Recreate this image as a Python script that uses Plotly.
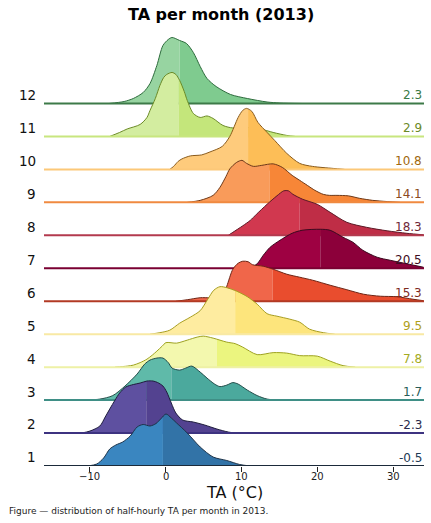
import numpy as np
import plotly.graph_objects as go

# %% data (temperatures in °C, heights = density in px at row pitch 33)

months = [1, 2, 3, 4, 5, 6, 7, 8, 9, 10, 11, 12]
medians = [-0.4, -2.6, 0.7, 6.7, 9.1, 14.0, 20.3, 17.6, 13.6, 10.8, 1.7, 1.8]
means = [-0.5, -2.3, 1.7, 7.8, 9.5, 15.3, 20.5, 18.3, 14.1, 10.8, 2.9, 2.3]
tick_vals = [-10, 0, 10, 20, 30]

ta_01 = [-10.3, -9.1, -8.2, -7.4, -6.6, -5.7, -4.7, -3.8, -3.0, -2.1, -1.3, -0.7, 0.0, 0.7, 1.4, 2.8, 4.5, 6.2, 8.0, 9.7, 11.1]
h_01 = [0, 2, 8, 17, 21, 24, 30, 39, 41.5, 40, 42.5, 47, 52, 48, 43, 33, 19, 9, 5.5, 1.5, 0]

ta_02 = [-11.1, -10.0, -8.7, -8.0, -7.4, -6.7, -6.1, -5.3, -4.3, -3.4, -2.5, -1.7, -1.1, -0.4, 0.1, 0.7, 1.3, 2.2, 3.6, 5.1, 6.7, 8.2, 9.1]
h_02 = [0, 2, 7, 16, 24, 33, 40, 46, 48.5, 50, 52, 52, 50.5, 47, 41, 30, 20, 13, 11, 8, 4, 1, 0]

ta_03 = [-10.7, -8.7, -7.0, -5.4, -3.8, -2.8, -2.1, -1.2, -0.4, 0.3, 0.8, 1.8, 2.6, 3.4, 4.5, 5.4, 6.4, 7.1, 8.0, 8.8, 9.5, 10.7, 12.0, 13.3, 14.6]
h_03 = [0, 1, 4.5, 14, 26, 36, 40, 42, 42, 37.5, 32, 30, 32, 34, 28, 22, 16, 13.5, 15, 17.5, 16, 10, 4.5, 1, 0]

ta_04 = [-6.7, -5.1, -4.3, -3.4, -2.5, -1.8, -1.2, -0.5, 0.0, 1.4, 2.8, 4.1, 4.9, 6.2, 8.0, 9.1, 10.1, 12.0, 14.1, 15.9, 17.6, 19.9, 21.6, 23.3, 24.9]
h_04 = [0, 1, 2, 4.5, 8, 12, 16, 21, 24.5, 24, 27, 30, 31, 29, 25, 23.5, 20, 12.5, 14.5, 14, 11.5, 11, 6, 1.5, 0]

ta_05 = [-2.1, -0.8, 0.5, 1.8, 3.2, 4.5, 5.5, 6.3, 7.1, 8.0, 9.3, 10.7, 12.0, 13.3, 14.6, 16.3, 17.6, 18.9, 20.7, 22.2]
h_05 = [0, 1.5, 4, 11, 17, 23.5, 35, 44, 47.5, 46.5, 43, 37.5, 30, 20.5, 18, 15, 12, 5, 1.5, 0]

ta_06 = [1.3, 2.8, 4.5, 5.8, 7.1, 7.6, 8.0, 8.8, 9.5, 10.1, 10.8, 11.4, 12.8, 14.1, 15.9, 17.6, 19.3, 21.6, 23.8, 26.0, 28.2, 30.4, 32.5, 33.9]
h_06 = [0, 1.5, 3.5, 3.5, 4.5, 8, 15, 32, 38, 40, 39.5, 36.5, 35, 32, 27, 24, 21, 16, 11.5, 7, 5, 4.5, 2, 0.5]

ta_07 = [11.1, 12.0, 12.8, 13.7, 15.0, 16.6, 17.9, 20.3, 21.6, 23.3, 24.6, 25.9, 27.8, 29.5, 31.7, 33.9]
h_07 = [0, 4.5, 13, 21, 28, 35, 38, 39, 38, 31, 26, 18, 11, 8, 4.5, 1]

ta_08 = [8.2, 8.8, 10.1, 11.1, 11.9, 13.3, 14.6, 15.5, 16.1, 16.7, 18.0, 19.9, 21.6, 23.8, 26.4, 29.1, 31.7, 33.9]
h_08 = [0, 3, 9.5, 15, 21, 31, 39.5, 44.5, 44.5, 41, 36, 31, 23, 13, 8, 4.5, 2, 0.5]

ta_09 = [2.8, 4.5, 6.2, 7.1, 7.9, 8.4, 9.3, 10.0, 10.6, 11.5, 12.6, 14.1, 15.3, 16.6, 17.6, 18.6, 19.6, 20.7, 21.5, 22.5, 24.0, 25.5, 27.2, 29.1, 30.8]
h_09 = [0, 2, 7, 15, 26, 33.5, 40, 42, 39, 36, 37, 38.5, 35, 27, 22, 17, 12, 8, 7, 7, 6.5, 4, 2, 0.8, 0]

ta_10 = [0.5, 1.0, 1.6, 2.1, 3.2, 4.7, 5.8, 7.4, 8.4, 9.5, 10.1, 10.6, 11.3, 12.1, 13.3, 14.3, 15.9, 17.6, 19.3, 22.0, 23.5]
h_10 = [0, 3, 8, 10.5, 13.5, 14.5, 17.5, 23, 33, 52, 59, 61, 58, 47, 37, 29, 16, 6, 3, 1, 0]

ta_11 = [-7.4, -6.1, -5.1, -3.4, -2.5, -2.1, -1.4, -0.8, -0.3, 0.1, 0.8, 1.3, 1.8, 2.4, 2.8, 3.6, 4.5, 5.4, 6.2, 7.5, 8.8, 9.7, 12.4, 14.1, 15.9, 17.0]
h_11 = [0, 4, 7.5, 12, 19, 26, 38, 51, 59, 62, 64, 62, 56, 45, 36, 23, 19, 20.5, 18, 11, 8.5, 9.5, 7.5, 4, 1, 0]

ta_12 = [-7.5, -5.5, -4.3, -3.0, -2.1, -1.2, -0.4, 0.3, 0.8, 1.8, 2.7, 3.6, 4.5, 5.4, 6.6, 8.5, 10.7, 13.3, 15.0, 18.0]
h_12 = [0, 2, 5, 11, 20, 38, 58, 64, 66, 63, 60, 51, 37, 25, 17, 9, 5, 1.5, 0.5, 0]

temps = [ta_01, ta_02, ta_03, ta_04, ta_05, ta_06, ta_07, ta_08, ta_09, ta_10, ta_11, ta_12]
heights = [h_01, h_02, h_03, h_04, h_05, h_06, h_07, h_08, h_09, h_10, h_11, h_12]

# %% colours per month

fill_left = ['#3a86c0', '#5e50a0', '#5fbaa9', '#f3f8ae', '#feeca0', '#f0664a',
             '#9e0142', '#d1384f', '#f99b5a', '#fecb7c', '#d3eda0', '#97d4a1']
fill_right = ['#3273a7', '#534290', '#4ba99d', '#ebf57f', '#fde57c', '#e94d2e',
              '#8c003a', '#bf2d46', '#f78637', '#fdbe57', '#c4e67b', '#7fcb8f']
edge = ['#1d3349', '#1f1d3d', '#254d4a', '#9ea21f', '#a89e20', '#6e2414',
        '#3b0a1e', '#5c1a26', '#6e3a1a', '#8a5a1a', '#6b8a26', '#2d6b3c']
base_col = ['#1b2a3a', '#3d3380', '#3f8f86', '#eef1a6', '#f8e9a4', '#b23a24',
            '#7a0032', '#b33a4e', '#f08a40', '#fcc878', '#c8e67f', '#3d7a48']
label_col = ['#1e3a55', '#2b2b4d', '#2a5c58', '#a4ab22', '#b0a01a', '#7e2a1e',
             '#3e0c22', '#6e2838', '#8c4a20', '#a0680e', '#6a8a28', '#3a7a45']

PITCH = 32.95
X_MIN, X_MAX = -16.05, 33.95

fig = go.Figure()

# top row first, so the lower rows sit in front of it
for i in reversed(range(len(months))):
    base = i
    x = np.array(temps[i], dtype=float)
    y = base + np.array(heights[i], dtype=float) / PITCH
    s = medians[i]
    ys = np.interp(s, x, y)

    lx = np.append(x[x < s], s)
    ly = np.append(y[x < s], ys)
    rx = np.insert(x[x > s], 0, s)
    ry = np.insert(y[x > s], 0, ys)

    for px_, py_, col in [(lx, ly, fill_left[i]), (rx, ry, fill_right[i])]:
        fig.add_trace(go.Scatter(x=[px_[0], px_[-1]], y=[base, base], mode='lines',
                                 line=dict(width=0), showlegend=False, hoverinfo='skip'))
        fig.add_trace(go.Scatter(x=px_, y=py_, mode='lines', fill='tonexty', fillcolor=col,
                                 line=dict(width=0, shape='spline', smoothing=0.8),
                                 showlegend=False, hoverinfo='skip'))

    fig.add_trace(go.Scatter(x=x, y=y, mode='lines',
                             line=dict(color=edge[i], width=1, shape='spline', smoothing=0.8),
                             showlegend=False, hoverinfo='skip'))
    fig.add_trace(go.Scatter(x=[X_MIN, X_MAX], y=[base, base], mode='lines',
                             line=dict(color=base_col[i], width=2),
                             showlegend=False, hoverinfo='skip'))

    fig.add_annotation(x=-0.016, xref='paper', y=base + 0.26, yref='y',
                       text=str(months[i]), showarrow=False, xanchor='right', yanchor='middle',
                       font=dict(size=13.5, color='#111111'))
    fig.add_annotation(x=1.0, xref='paper', y=base + 0.25, yref='y',
                       text=f'{means[i]:.1f}', showarrow=False, xanchor='right', yanchor='middle',
                       font=dict(size=12, color=label_col[i]))

# tick labels sit close to the axis, like the original
for t in tick_vals:
    fig.add_annotation(x=t, xref='x', y=-0.023, yref='paper', text=f'{t}'.replace('-', '\u2212'),
                       showarrow=False, xanchor='center', yanchor='middle',
                       font=dict(size=10, color='#222222'))

fig.add_annotation(x=0.5, xref='paper', y=-0.062, yref='paper', text='TA (°C)',
                   showarrow=False, xanchor='center', yanchor='middle',
                   font=dict(size=16, color='#111111'))
fig.add_annotation(x=-0.097, xref='paper', y=-0.1034, yref='paper',
                   text='Figure — distribution of half-hourly TA per month in 2013.',
                   showarrow=False, xanchor='left', yanchor='middle',
                   font=dict(size=9, color='#222222'))

fig.update_layout(
    width=431, height=523,
    margin=dict(l=44, r=7, t=31, b=57),
    paper_bgcolor='white', plot_bgcolor='white',
    font=dict(family='DejaVu Sans', color='#111111'),
    title=dict(text='<b>TA per month (2013)</b>', x=0.513, xanchor='center',
               y=0.973, yanchor='middle', font=dict(size=16, color='#000000')),
    showlegend=False,
)
fig.update_xaxes(range=[X_MIN, X_MAX], tickvals=tick_vals, showticklabels=False,
                 ticks='outside', ticklen=5, tickwidth=1, tickcolor='#222222',
                 showline=False, showgrid=False, zeroline=False)
fig.update_yaxes(range=[0, 13.2], showticklabels=False, showgrid=False,
                 zeroline=False, showline=False)

fig.write_html("out.html", config={'displayModeBar': False},
               post_script="document.body.style.margin='0px';")
